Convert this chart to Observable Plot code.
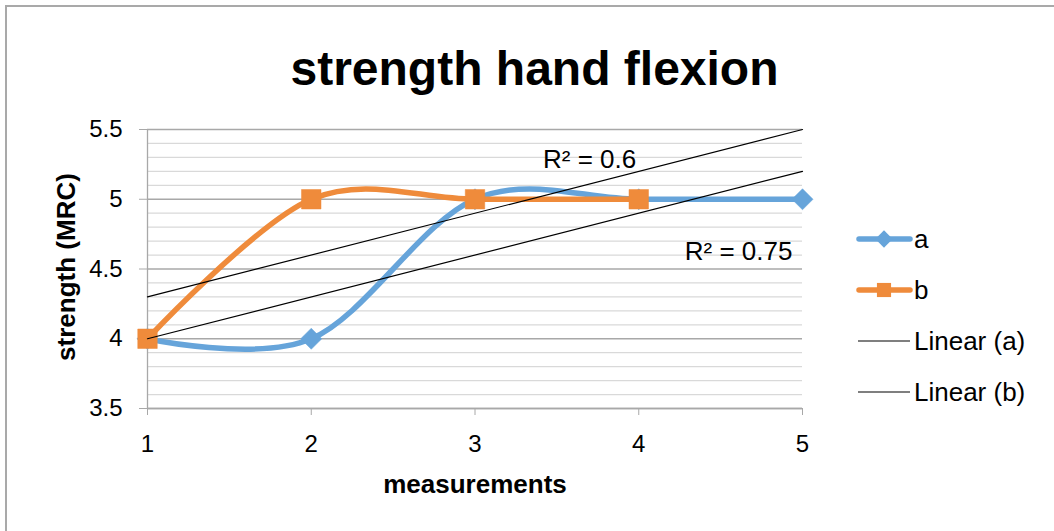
<!DOCTYPE html>
<html>
<head>
<meta charset="utf-8">
<script src="https://cdn.jsdelivr.net/npm/d3@7"></script>
<script src="https://cdn.jsdelivr.net/npm/@observablehq/plot@0.6"></script>
<style>
  html, body { margin: 0; padding: 0; background: #fff; overflow: hidden; }
  #wrap { position: relative; width: 1054px; height: 531px; font-family: "Liberation Sans", Arial, sans-serif; }
  #frame { position: absolute; left: 5px; top: 5px; width: 1200px; height: 700px; border-left: 2px solid #a9a9a9; border-top: 2px solid #a9a9a9; }
  #wrap svg { position: absolute; left: 0; top: 0; }
</style>
</head>
<body>
<div id="wrap"><div id="frame"></div></div>
<script>
// ---- data ----
const measurements = [1, 2, 3, 4, 5];
const seriesA = [4, 4, 5, 5, 5];
const seriesB = [4, 5, 5, 5];
const yTicks = [3.5, 4, 4.5, 5, 5.5];
const seriesNames = ["a", "b"];
const trendNames = ["Linear (a)", "Linear (b)"];
const titleText = "strength hand flexion";
const xLabel = "measurements";
const yLabel = "strength (MRC)";
// R² label anchor points (data units)
const r2LabelX = [4.61, 3.70];
const r2LabelY = [4.625, 5.285];

const colA = "#66A4DA";
const colB = "#EF8B3B";
const font = '"Liberation Sans", Arial, sans-serif';

const ptsA = seriesA.map((y, i) => ({x: measurements[i], y}));
const ptsB = seriesB.map((y, i) => ({x: measurements[i], y}));

function fit(pts) {
  const n = pts.length;
  const mx = d3.mean(pts, d => d.x), my = d3.mean(pts, d => d.y);
  const sxy = d3.sum(pts, d => (d.x - mx) * (d.y - my));
  const sxx = d3.sum(pts, d => (d.x - mx) ** 2);
  const slope = sxy / sxx, icpt = my - slope * mx;
  const ssr = d3.sum(pts, d => (d.y - (icpt + slope * d.x)) ** 2);
  const sst = d3.sum(pts, d => (d.y - my) ** 2);
  return {slope, icpt, r2: 1 - ssr / sst};
}
const xExt = d3.extent(measurements);
const fits = [fit(ptsA), fit(ptsB)];
const trendLines = fits.map((f, k) => xExt.map(x => ({x, y: f.icpt + f.slope * x, k})));
const r2Labels = fits.map((f, k) => ({x: r2LabelX[k], y: r2LabelY[k], text: "R² = " + (Math.round(f.r2 * 100) / 100)}));

const minor = d3.range(0, 21).map(i => +(3.5 + i * 0.1).toFixed(1)).filter(v => !yTicks.includes(v));

const chart = Plot.plot({
  width: 1054, height: 531,
  marginLeft: 147, marginRight: 252, marginTop: 129, marginBottom: 123,
  x: {domain: xExt},
  y: {domain: [3.5, 5.5]},
  style: {fontFamily: font, fontSize: "24px", color: "#000", background: "transparent", overflow: "visible"},
  marks: [
    Plot.gridY(minor, {stroke: "#d9d9d9", strokeOpacity: 1, strokeWidth: 1.3}),
    Plot.gridY(yTicks, {stroke: "#a8a8a8", strokeOpacity: 1, strokeWidth: 1.3}),
    Plot.ruleX([xExt[0]], {stroke: "#a8a8a8", strokeWidth: 1.3}),
    Plot.ruleY([3.5], {stroke: "#a8a8a8", strokeWidth: 1.5}),
    Plot.axisX(measurements, {tickSize: 7, tickPadding: 19, stroke: "#a8a8a8", label: null, fontSize: 24, fill: "#000", tickFormat: d => String(d)}),
    Plot.axisY(yTicks, {tickSize: 8, tickPadding: 17, stroke: "#a8a8a8", label: null, fontSize: 24, fill: "#000", tickFormat: d => String(d)}),
    Plot.line(ptsA, {x: "x", y: "y", curve: "cardinal", stroke: colA, strokeWidth: 5.5, strokeLinecap: "round", strokeLinejoin: "round"}),
    Plot.dot(ptsA, {x: "x", y: "y", symbol: "diamond2", r: 9.5, fill: colA, stroke: colA, strokeWidth: 0.5}),
    Plot.line(ptsB, {x: "x", y: "y", curve: "cardinal", stroke: colB, strokeWidth: 5.5, strokeLinecap: "round", strokeLinejoin: "round"}),
    Plot.dot(ptsB, {x: "x", y: "y", symbol: "square", r: 11, fill: colB, stroke: colB, strokeWidth: 0.5}),
    Plot.line(trendLines[0], {x: "x", y: "y", stroke: "#000", strokeWidth: 1.2}),
    Plot.line(trendLines[1], {x: "x", y: "y", stroke: "#000", strokeWidth: 1.2}),
    Plot.text(r2Labels, {x: "x", y: "y", text: "text", fontSize: 26, fill: "#000", textAnchor: "middle"})
  ]
});
document.getElementById("wrap").appendChild(chart);

// ---- overlay: titles and legend ----
const ov = d3.select("#wrap").append("svg")
  .attr("width", 1054).attr("height", 531)
  .style("font-family", font);

ov.append("text").attr("x", 534.5).attr("y", 85).attr("text-anchor", "middle")
  .attr("font-size", 48).attr("font-weight", "bold").text(titleText);
ov.append("text").attr("x", 475).attr("y", 493).attr("text-anchor", "middle")
  .attr("font-size", 26).attr("font-weight", "bold").text(xLabel);
ov.append("text").attr("transform", "translate(75,267) rotate(-90)").attr("text-anchor", "middle")
  .attr("font-size", 26).attr("font-weight", "bold").text(yLabel);

const legendRows = [
  {name: seriesNames[0], color: colA, sym: "diamond", y: 239},
  {name: seriesNames[1], color: colB, sym: "square", y: 290},
  {name: trendNames[0], color: "#000", sym: null, y: 341},
  {name: trendNames[1], color: "#000", sym: null, y: 392}
];
legendRows.forEach(r => {
  const g = ov.append("g");
  if (r.sym) {
    g.append("line").attr("x1", 859).attr("x2", 910).attr("y1", r.y).attr("y2", r.y)
      .attr("stroke", r.color).attr("stroke-width", 5.5).attr("stroke-linecap", "round");
    if (r.sym === "diamond") {
    g.append("path").attr("d", d3.symbol(d3.symbolDiamond2, 190)())
      .attr("transform", `translate(884,${r.y})`).attr("fill", r.color);
    } else {
    g.append("path").attr("d", d3.symbol(d3.symbolSquare, 200)())
      .attr("transform", `translate(884,${r.y})`).attr("fill", r.color);
    }
  } else {
    g.append("line").attr("x1", 858).attr("x2", 910).attr("y1", r.y).attr("y2", r.y)
      .attr("stroke", "#000").attr("stroke-width", 1.2);
  }
  g.append("text").attr("x", 914).attr("y", r.y).attr("dy", "0.35em")
    .attr("font-size", 26).text(r.name);
});
</script>
</body>
</html>
